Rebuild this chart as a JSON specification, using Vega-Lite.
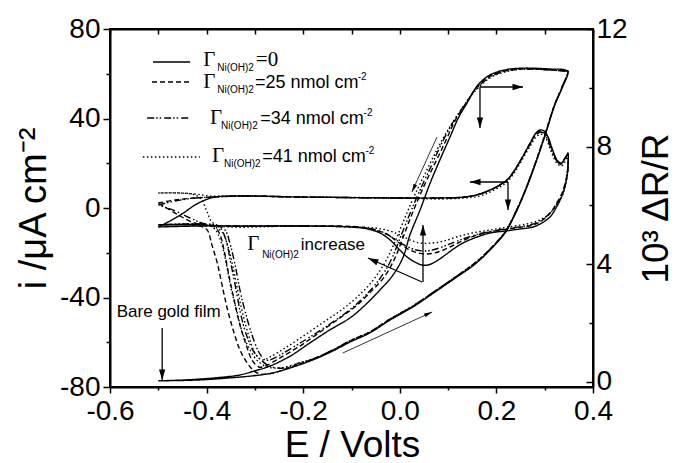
{
  "$schema": "https://vega.github.io/schema/vega-lite/v6.json",
  "width": 483,
  "height": 358,
  "autosize": {"type": "none"},
  "padding": {"left": 110, "top": 29, "right": 82, "bottom": 76},
  "background": "white",
  "config": {
    "view": {"stroke": "black", "strokeWidth": 2},
    "font": "Liberation Sans",
    "axis": {
      "domainColor": "black", "domainWidth": 2, "tickColor": "black", "tickWidth": 1.5,
      "labelFont": "Liberation Sans", "labelFontSize": 28, "labelColor": "black",
      "labelOverlap": false, "labelFlush": false, "labelBound": false,
      "titleFont": "Liberation Sans", "titleFontSize": 38, "titleFontWeight": "normal", "titleColor": "black",
      "grid": false
    }
  },
  "datasets": {
    "cv": [
      {"s":"0","o":1,"E":-0.5,"i":-8.49},{"s":"0","o":2,"E":-0.476,"i":-5.81},{"s":"0","o":3,"E":-0.451,"i":-2.68},{"s":"0","o":4,"E":-0.424,"i":1.34},{"s":"0","o":5,"E":-0.403,"i":3.58},{"s":"0","o":6,"E":-0.383,"i":4.92},{"s":"0","o":7,"E":-0.331,"i":5.36},{"s":"0","o":8,"E":-0.207,"i":4.92},{"s":"0","o":9,"E":0.0,"i":4.47},{"s":"0","o":10,"E":0.083,"i":4.47},{"s":"0","o":11,"E":0.135,"i":4.92},{"s":"0","o":12,"E":0.166,"i":6.26},{"s":"0","o":13,"E":0.187,"i":8.04},{"s":"0","o":14,"E":0.207,"i":10.28},{"s":"0","o":15,"E":0.224,"i":12.96},{"s":"0","o":16,"E":0.238,"i":16.98},{"s":"0","o":17,"E":0.253,"i":22.35},{"s":"0","o":18,"E":0.27,"i":29.05},{"s":"0","o":19,"E":0.282,"i":33.52},{"s":"0","o":20,"E":0.29,"i":34.86},{"s":"0","o":21,"E":0.299,"i":34.41},{"s":"0","o":22,"E":0.307,"i":31.73},{"s":"0","o":23,"E":0.315,"i":26.82},{"s":"0","o":24,"E":0.323,"i":22.35},{"s":"0","o":25,"E":0.332,"i":19.67},{"s":"0","o":26,"E":0.34,"i":21.45},{"s":"0","o":27,"E":0.348,"i":24.13},{"s":"0","o":28,"E":0.348,"i":18.77},{"s":"0","o":29,"E":0.346,"i":13.85},{"s":"0","o":30,"E":0.34,"i":8.04},{"s":"0","o":31,"E":0.332,"i":3.58},{"s":"0","o":32,"E":0.321,"i":-0.89},{"s":"0","o":33,"E":0.311,"i":-4.02},{"s":"0","o":34,"E":0.294,"i":-6.7},{"s":"0","o":35,"E":0.276,"i":-8.49},{"s":"0","o":36,"E":0.249,"i":-9.39},{"s":"0","o":37,"E":0.218,"i":-10.28},{"s":"0","o":38,"E":0.187,"i":-11.17},{"s":"0","o":39,"E":0.16,"i":-12.96},{"s":"0","o":40,"E":0.135,"i":-15.2},{"s":"0","o":41,"E":0.114,"i":-17.88},{"s":"0","o":42,"E":0.094,"i":-21.01},{"s":"0","o":43,"E":0.073,"i":-24.13},{"s":"0","o":44,"E":0.058,"i":-25.48},{"s":"0","o":45,"E":0.046,"i":-25.48},{"s":"0","o":46,"E":0.031,"i":-24.13},{"s":"0","o":47,"E":0.015,"i":-21.9},{"s":"0","o":48,"E":-0.004,"i":-17.88},{"s":"0","o":49,"E":-0.02,"i":-14.3},{"s":"0","o":50,"E":-0.041,"i":-11.17},{"s":"0","o":51,"E":-0.066,"i":-9.39},{"s":"0","o":52,"E":-0.103,"i":-8.49},{"s":"0","o":53,"E":-0.207,"i":-8.04},{"s":"0","o":54,"E":-0.31,"i":-8.04},{"s":"0","o":55,"E":-0.414,"i":-8.04},{"s":"0","o":56,"E":-0.5,"i":-8.49},
      {"s":"25","o":1,"E":-0.5,"i":2.23},{"s":"25","o":2,"E":-0.465,"i":3.58},{"s":"25","o":3,"E":-0.424,"i":4.47},{"s":"25","o":4,"E":-0.383,"i":4.92},{"s":"25","o":5,"E":-0.331,"i":5.36},{"s":"25","o":6,"E":-0.207,"i":4.92},{"s":"25","o":7,"E":0.0,"i":4.47},{"s":"25","o":8,"E":0.083,"i":4.47},{"s":"25","o":9,"E":0.135,"i":4.92},{"s":"25","o":10,"E":0.166,"i":6.26},{"s":"25","o":11,"E":0.187,"i":8.04},{"s":"25","o":12,"E":0.207,"i":10.28},{"s":"25","o":13,"E":0.224,"i":12.96},{"s":"25","o":14,"E":0.238,"i":16.98},{"s":"25","o":15,"E":0.253,"i":22.35},{"s":"25","o":16,"E":0.27,"i":29.05},{"s":"25","o":17,"E":0.282,"i":33.07},{"s":"25","o":18,"E":0.292,"i":34.41},{"s":"25","o":19,"E":0.301,"i":33.07},{"s":"25","o":20,"E":0.309,"i":29.94},{"s":"25","o":21,"E":0.317,"i":25.03},{"s":"25","o":22,"E":0.325,"i":21.45},{"s":"25","o":23,"E":0.334,"i":20.11},{"s":"25","o":24,"E":0.342,"i":22.35},{"s":"25","o":25,"E":0.348,"i":24.58},{"s":"25","o":26,"E":0.348,"i":17.88},{"s":"25","o":27,"E":0.344,"i":12.51},{"s":"25","o":28,"E":0.336,"i":6.7},{"s":"25","o":29,"E":0.325,"i":2.23},{"s":"25","o":30,"E":0.313,"i":-1.79},{"s":"25","o":31,"E":0.296,"i":-5.36},{"s":"25","o":32,"E":0.276,"i":-7.6},{"s":"25","o":33,"E":0.238,"i":-8.94},{"s":"25","o":34,"E":0.197,"i":-10.28},{"s":"25","o":35,"E":0.16,"i":-12.07},{"s":"25","o":36,"E":0.129,"i":-14.75},{"s":"25","o":37,"E":0.104,"i":-17.43},{"s":"25","o":38,"E":0.079,"i":-19.67},{"s":"25","o":39,"E":0.058,"i":-20.56},{"s":"25","o":40,"E":0.038,"i":-20.11},{"s":"25","o":41,"E":0.017,"i":-18.33},{"s":"25","o":42,"E":-0.004,"i":-15.2},{"s":"25","o":43,"E":-0.024,"i":-12.07},{"s":"25","o":44,"E":-0.051,"i":-9.83},{"s":"25","o":45,"E":-0.082,"i":-8.49},{"s":"25","o":46,"E":-0.207,"i":-8.04},{"s":"25","o":47,"E":-0.352,"i":-8.04},{"s":"25","o":48,"E":-0.403,"i":-7.6},{"s":"25","o":49,"E":-0.43,"i":-6.26},{"s":"25","o":50,"E":-0.455,"i":-3.58},{"s":"25","o":51,"E":-0.476,"i":-0.89},{"s":"25","o":52,"E":-0.5,"i":2.23},
      {"s":"34","o":1,"E":-0.5,"i":1.34},{"s":"34","o":2,"E":-0.465,"i":3.13},{"s":"34","o":3,"E":-0.424,"i":4.47},{"s":"34","o":4,"E":-0.383,"i":4.92},{"s":"34","o":5,"E":-0.331,"i":5.36},{"s":"34","o":6,"E":-0.207,"i":4.92},{"s":"34","o":7,"E":0.0,"i":4.47},{"s":"34","o":8,"E":0.083,"i":4.47},{"s":"34","o":9,"E":0.135,"i":4.92},{"s":"34","o":10,"E":0.166,"i":6.26},{"s":"34","o":11,"E":0.187,"i":8.04},{"s":"34","o":12,"E":0.207,"i":10.28},{"s":"34","o":13,"E":0.224,"i":12.96},{"s":"34","o":14,"E":0.238,"i":16.98},{"s":"34","o":15,"E":0.253,"i":22.35},{"s":"34","o":16,"E":0.27,"i":28.6},{"s":"34","o":17,"E":0.282,"i":32.6},{"s":"34","o":18,"E":0.292,"i":33.97},{"s":"34","o":19,"E":0.301,"i":32.63},{"s":"34","o":20,"E":0.309,"i":29.05},{"s":"34","o":21,"E":0.317,"i":24.58},{"s":"34","o":22,"E":0.325,"i":21.01},{"s":"34","o":23,"E":0.334,"i":19.67},{"s":"34","o":24,"E":0.342,"i":21.9},{"s":"34","o":25,"E":0.348,"i":24.13},{"s":"34","o":26,"E":0.348,"i":17.88},{"s":"34","o":27,"E":0.344,"i":12.07},{"s":"34","o":28,"E":0.336,"i":6.26},{"s":"34","o":29,"E":0.325,"i":1.79},{"s":"34","o":30,"E":0.311,"i":-2.23},{"s":"34","o":31,"E":0.294,"i":-5.36},{"s":"34","o":32,"E":0.27,"i":-7.6},{"s":"34","o":33,"E":0.232,"i":-8.94},{"s":"34","o":34,"E":0.193,"i":-10.28},{"s":"34","o":35,"E":0.156,"i":-12.07},{"s":"34","o":36,"E":0.125,"i":-14.3},{"s":"34","o":37,"E":0.098,"i":-16.54},{"s":"34","o":38,"E":0.075,"i":-18.33},{"s":"34","o":39,"E":0.054,"i":-19.22},{"s":"34","o":40,"E":0.034,"i":-18.77},{"s":"34","o":41,"E":0.013,"i":-16.98},{"s":"34","o":42,"E":-0.008,"i":-14.3},{"s":"34","o":43,"E":-0.031,"i":-11.17},{"s":"34","o":44,"E":-0.057,"i":-9.39},{"s":"34","o":45,"E":-0.093,"i":-8.49},{"s":"34","o":46,"E":-0.207,"i":-8.04},{"s":"34","o":47,"E":-0.362,"i":-8.04},{"s":"34","o":48,"E":-0.403,"i":-7.15},{"s":"34","o":49,"E":-0.434,"i":-4.47},{"s":"34","o":50,"E":-0.465,"i":-1.34},{"s":"34","o":51,"E":-0.5,"i":1.34},
      {"s":"41","o":1,"E":-0.5,"i":6.7},{"s":"41","o":2,"E":-0.455,"i":6.7},{"s":"41","o":3,"E":-0.424,"i":6.26},{"s":"41","o":4,"E":-0.393,"i":5.36},{"s":"41","o":5,"E":-0.331,"i":5.36},{"s":"41","o":6,"E":-0.207,"i":4.92},{"s":"41","o":7,"E":0.0,"i":4.47},{"s":"41","o":8,"E":0.083,"i":4.02},{"s":"41","o":9,"E":0.135,"i":4.47},{"s":"41","o":10,"E":0.166,"i":5.36},{"s":"41","o":11,"E":0.187,"i":7.15},{"s":"41","o":12,"E":0.207,"i":9.38},{"s":"41","o":13,"E":0.224,"i":12.07},{"s":"41","o":14,"E":0.238,"i":16.09},{"s":"41","o":15,"E":0.253,"i":21.45},{"s":"41","o":16,"E":0.27,"i":27.71},{"s":"41","o":17,"E":0.282,"i":31.73},{"s":"41","o":18,"E":0.292,"i":33.07},{"s":"41","o":19,"E":0.301,"i":31.73},{"s":"41","o":20,"E":0.309,"i":27.71},{"s":"41","o":21,"E":0.317,"i":23.24},{"s":"41","o":22,"E":0.325,"i":20.11},{"s":"41","o":23,"E":0.334,"i":18.77},{"s":"41","o":24,"E":0.342,"i":20.56},{"s":"41","o":25,"E":0.348,"i":22.79},{"s":"41","o":26,"E":0.348,"i":16.98},{"s":"41","o":27,"E":0.344,"i":11.17},{"s":"41","o":28,"E":0.336,"i":5.36},{"s":"41","o":29,"E":0.323,"i":0.89},{"s":"41","o":30,"E":0.309,"i":-2.68},{"s":"41","o":31,"E":0.29,"i":-5.36},{"s":"41","o":32,"E":0.263,"i":-7.15},{"s":"41","o":33,"E":0.224,"i":-8.49},{"s":"41","o":34,"E":0.187,"i":-9.83},{"s":"41","o":35,"E":0.15,"i":-11.17},{"s":"41","o":36,"E":0.118,"i":-12.96},{"s":"41","o":37,"E":0.091,"i":-14.75},{"s":"41","o":38,"E":0.067,"i":-15.64},{"s":"41","o":39,"E":0.042,"i":-15.64},{"s":"41","o":40,"E":0.021,"i":-14.3},{"s":"41","o":41,"E":0.0,"i":-12.07},{"s":"41","o":42,"E":-0.02,"i":-10.28},{"s":"41","o":43,"E":-0.051,"i":-8.94},{"s":"41","o":44,"E":-0.093,"i":-8.49},{"s":"41","o":45,"E":-0.207,"i":-8.04},{"s":"41","o":46,"E":-0.372,"i":-8.04},{"s":"41","o":47,"E":-0.389,"i":-6.26},{"s":"41","o":48,"E":-0.399,"i":-1.79},{"s":"41","o":49,"E":-0.41,"i":3.58},{"s":"41","o":50,"E":-0.424,"i":5.81},{"s":"41","o":51,"E":-0.455,"i":6.7},{"s":"41","o":52,"E":-0.5,"i":6.7}
    ],
    "rf": [
      {"s":"0","o":1,"E":-0.5,"R":0.04},{"s":"0","o":2,"E":-0.414,"R":0.07},{"s":"0","o":3,"E":-0.352,"R":0.14},{"s":"0","o":4,"E":-0.304,"R":0.21},{"s":"0","o":5,"E":-0.263,"R":0.31},{"s":"0","o":6,"E":-0.221,"R":0.51},{"s":"0","o":7,"E":-0.18,"R":0.75},{"s":"0","o":8,"E":-0.138,"R":1.06},{"s":"0","o":9,"E":-0.103,"R":1.36},{"s":"0","o":10,"E":-0.062,"R":1.67},{"s":"0","o":11,"E":-0.02,"R":2.11},{"s":"0","o":12,"E":0.027,"R":2.55},{"s":"0","o":13,"E":0.073,"R":3.06},{"s":"0","o":14,"E":0.118,"R":3.57},{"s":"0","o":15,"E":0.156,"R":4.01},{"s":"0","o":16,"E":0.187,"R":4.49},{"s":"0","o":17,"E":0.218,"R":5.07},{"s":"0","o":18,"E":0.238,"R":5.68},{"s":"0","o":19,"E":0.259,"R":6.46},{"s":"0","o":20,"E":0.28,"R":7.38},{"s":"0","o":21,"E":0.301,"R":8.4},{"s":"0","o":22,"E":0.321,"R":9.42},{"s":"0","o":23,"E":0.336,"R":9.99},{"s":"0","o":24,"E":0.348,"R":10.54},{"s":"0","o":25,"E":0.342,"R":10.61},{"s":"0","o":26,"E":0.311,"R":10.64},{"s":"0","o":27,"E":0.255,"R":10.67},{"s":"0","o":28,"E":0.218,"R":10.61},{"s":"0","o":29,"E":0.187,"R":10.44},{"s":"0","o":30,"E":0.162,"R":10.1},{"s":"0","o":31,"E":0.139,"R":9.48},{"s":"0","o":32,"E":0.121,"R":8.97},{"s":"0","o":33,"E":0.104,"R":8.33},{"s":"0","o":34,"E":0.083,"R":7.55},{"s":"0","o":35,"E":0.063,"R":6.77},{"s":"0","o":36,"E":0.042,"R":5.85},{"s":"0","o":37,"E":0.021,"R":5.0},{"s":"0","o":38,"E":0.007,"R":4.25},{"s":"0","o":39,"E":-0.014,"R":3.64},{"s":"0","o":40,"E":-0.041,"R":3.13},{"s":"0","o":41,"E":-0.076,"R":2.55},{"s":"0","o":42,"E":-0.103,"R":2.18},{"s":"0","o":43,"E":-0.145,"R":1.77},{"s":"0","o":44,"E":-0.186,"R":1.33},{"s":"0","o":45,"E":-0.227,"R":0.88},{"s":"0","o":46,"E":-0.269,"R":0.54},{"s":"0","o":47,"E":-0.3,"R":0.38},{"s":"0","o":48,"E":-0.331,"R":0.24},{"s":"0","o":49,"E":-0.383,"R":0.14},{"s":"0","o":50,"E":-0.445,"R":0.07},{"s":"0","o":51,"E":-0.5,"R":0.04},
      {"s":"25","o":1,"E":-0.5,"R":5.34},{"s":"25","o":2,"E":-0.445,"R":5.34},{"s":"25","o":3,"E":-0.414,"R":5.3},{"s":"25","o":4,"E":-0.399,"R":5.17},{"s":"25","o":5,"E":-0.389,"R":4.66},{"s":"25","o":6,"E":-0.378,"R":4.05},{"s":"25","o":7,"E":-0.368,"R":3.3},{"s":"25","o":8,"E":-0.358,"R":2.55},{"s":"25","o":9,"E":-0.345,"R":1.77},{"s":"25","o":10,"E":-0.331,"R":1.09},{"s":"25","o":11,"E":-0.316,"R":0.65},{"s":"25","o":12,"E":-0.304,"R":0.41},{"s":"25","o":13,"E":-0.289,"R":0.27},{"s":"25","o":14,"E":-0.263,"R":0.3},{"s":"25","o":15,"E":-0.221,"R":0.54},{"s":"25","o":16,"E":-0.18,"R":0.78},{"s":"25","o":17,"E":-0.138,"R":1.09},{"s":"25","o":18,"E":-0.103,"R":1.4},{"s":"25","o":19,"E":-0.062,"R":1.7},{"s":"25","o":20,"E":-0.02,"R":2.14},{"s":"25","o":21,"E":0.027,"R":2.58},{"s":"25","o":22,"E":0.073,"R":3.09},{"s":"25","o":23,"E":0.118,"R":3.6},{"s":"25","o":24,"E":0.156,"R":4.05},{"s":"25","o":25,"E":0.187,"R":4.52},{"s":"25","o":26,"E":0.218,"R":5.1},{"s":"25","o":27,"E":0.238,"R":5.71},{"s":"25","o":28,"E":0.259,"R":6.49},{"s":"25","o":29,"E":0.28,"R":7.41},{"s":"25","o":30,"E":0.301,"R":8.43},{"s":"25","o":31,"E":0.321,"R":9.45},{"s":"25","o":32,"E":0.336,"R":10.03},{"s":"25","o":33,"E":0.348,"R":10.57},{"s":"25","o":34,"E":0.342,"R":10.57},{"s":"25","o":35,"E":0.311,"R":10.61},{"s":"25","o":36,"E":0.255,"R":10.64},{"s":"25","o":37,"E":0.218,"R":10.57},{"s":"25","o":38,"E":0.187,"R":10.4},{"s":"25","o":39,"E":0.16,"R":10.03},{"s":"25","o":40,"E":0.135,"R":9.42},{"s":"25","o":41,"E":0.114,"R":8.87},{"s":"25","o":42,"E":0.096,"R":8.23},{"s":"25","o":43,"E":0.073,"R":7.44},{"s":"25","o":44,"E":0.05,"R":6.66},{"s":"25","o":45,"E":0.027,"R":5.78},{"s":"25","o":46,"E":0.007,"R":4.93},{"s":"25","o":47,"E":-0.01,"R":4.22},{"s":"25","o":48,"E":-0.031,"R":3.6},{"s":"25","o":49,"E":-0.062,"R":3.03},{"s":"25","o":50,"E":-0.093,"R":2.55},{"s":"25","o":51,"E":-0.124,"R":2.18},{"s":"25","o":52,"E":-0.165,"R":1.7},{"s":"25","o":53,"E":-0.207,"R":1.22},{"s":"25","o":54,"E":-0.248,"R":0.82},{"s":"25","o":55,"E":-0.279,"R":0.54},{"s":"25","o":56,"E":-0.292,"R":0.51},{"s":"25","o":57,"E":-0.306,"R":0.75},{"s":"25","o":58,"E":-0.318,"R":1.26},{"s":"25","o":59,"E":-0.331,"R":1.94},{"s":"25","o":60,"E":-0.343,"R":2.79},{"s":"25","o":61,"E":-0.354,"R":3.64},{"s":"25","o":62,"E":-0.364,"R":4.49},{"s":"25","o":63,"E":-0.372,"R":5.0},{"s":"25","o":64,"E":-0.383,"R":5.27},{"s":"25","o":65,"E":-0.403,"R":5.34},{"s":"25","o":66,"E":-0.455,"R":5.34},{"s":"25","o":67,"E":-0.5,"R":5.34},
      {"s":"34","o":1,"E":-0.5,"R":5.34},{"s":"34","o":2,"E":-0.393,"R":5.34},{"s":"34","o":3,"E":-0.372,"R":5.24},{"s":"34","o":4,"E":-0.36,"R":4.83},{"s":"34","o":5,"E":-0.35,"R":4.05},{"s":"34","o":6,"E":-0.339,"R":3.13},{"s":"34","o":7,"E":-0.329,"R":2.28},{"s":"34","o":8,"E":-0.316,"R":1.53},{"s":"34","o":9,"E":-0.302,"R":1.02},{"s":"34","o":10,"E":-0.285,"R":0.71},{"s":"34","o":11,"E":-0.265,"R":0.51},{"s":"34","o":12,"E":-0.238,"R":0.48},{"s":"34","o":13,"E":-0.207,"R":0.65},{"s":"34","o":14,"E":-0.18,"R":0.78},{"s":"34","o":15,"E":-0.138,"R":1.09},{"s":"34","o":16,"E":-0.103,"R":1.4},{"s":"34","o":17,"E":-0.062,"R":1.7},{"s":"34","o":18,"E":-0.02,"R":2.14},{"s":"34","o":19,"E":0.027,"R":2.58},{"s":"34","o":20,"E":0.073,"R":3.09},{"s":"34","o":21,"E":0.118,"R":3.6},{"s":"34","o":22,"E":0.156,"R":4.05},{"s":"34","o":23,"E":0.187,"R":4.52},{"s":"34","o":24,"E":0.218,"R":5.1},{"s":"34","o":25,"E":0.238,"R":5.71},{"s":"34","o":26,"E":0.259,"R":6.49},{"s":"34","o":27,"E":0.28,"R":7.41},{"s":"34","o":28,"E":0.301,"R":8.43},{"s":"34","o":29,"E":0.321,"R":9.45},{"s":"34","o":30,"E":0.336,"R":10.03},{"s":"34","o":31,"E":0.348,"R":10.57},{"s":"34","o":32,"E":0.342,"R":10.57},{"s":"34","o":33,"E":0.311,"R":10.61},{"s":"34","o":34,"E":0.255,"R":10.64},{"s":"34","o":35,"E":0.218,"R":10.57},{"s":"34","o":36,"E":0.187,"R":10.37},{"s":"34","o":37,"E":0.158,"R":9.96},{"s":"34","o":38,"E":0.131,"R":9.35},{"s":"34","o":39,"E":0.108,"R":8.77},{"s":"34","o":40,"E":0.087,"R":8.12},{"s":"34","o":41,"E":0.065,"R":7.34},{"s":"34","o":42,"E":0.042,"R":6.53},{"s":"34","o":43,"E":0.019,"R":5.64},{"s":"34","o":44,"E":-0.002,"R":4.79},{"s":"34","o":45,"E":-0.02,"R":4.08},{"s":"34","o":46,"E":-0.045,"R":3.43},{"s":"34","o":47,"E":-0.076,"R":2.86},{"s":"34","o":48,"E":-0.107,"R":2.41},{"s":"34","o":49,"E":-0.145,"R":1.97},{"s":"34","o":50,"E":-0.186,"R":1.53},{"s":"34","o":51,"E":-0.227,"R":1.12},{"s":"34","o":52,"E":-0.252,"R":0.88},{"s":"34","o":53,"E":-0.269,"R":0.75},{"s":"34","o":54,"E":-0.279,"R":0.75},{"s":"34","o":55,"E":-0.292,"R":1.02},{"s":"34","o":56,"E":-0.306,"R":1.6},{"s":"34","o":57,"E":-0.32,"R":2.38},{"s":"34","o":58,"E":-0.331,"R":3.13},{"s":"34","o":59,"E":-0.341,"R":3.98},{"s":"34","o":60,"E":-0.352,"R":4.73},{"s":"34","o":61,"E":-0.362,"R":5.17},{"s":"34","o":62,"E":-0.383,"R":5.34},{"s":"34","o":63,"E":-0.5,"R":5.34},
      {"s":"41","o":1,"E":-0.5,"R":5.34},{"s":"41","o":2,"E":-0.403,"R":5.34},{"s":"41","o":3,"E":-0.383,"R":5.2},{"s":"41","o":4,"E":-0.37,"R":4.76},{"s":"41","o":5,"E":-0.36,"R":4.08},{"s":"41","o":6,"E":-0.35,"R":3.23},{"s":"41","o":7,"E":-0.337,"R":2.38},{"s":"41","o":8,"E":-0.325,"R":1.63},{"s":"41","o":9,"E":-0.31,"R":1.09},{"s":"41","o":10,"E":-0.294,"R":0.71},{"s":"41","o":11,"E":-0.273,"R":0.51},{"s":"41","o":12,"E":-0.248,"R":0.48},{"s":"41","o":13,"E":-0.207,"R":0.65},{"s":"41","o":14,"E":-0.18,"R":0.78},{"s":"41","o":15,"E":-0.138,"R":1.09},{"s":"41","o":16,"E":-0.103,"R":1.4},{"s":"41","o":17,"E":-0.062,"R":1.7},{"s":"41","o":18,"E":-0.02,"R":2.14},{"s":"41","o":19,"E":0.027,"R":2.58},{"s":"41","o":20,"E":0.073,"R":3.09},{"s":"41","o":21,"E":0.118,"R":3.6},{"s":"41","o":22,"E":0.156,"R":4.05},{"s":"41","o":23,"E":0.187,"R":4.52},{"s":"41","o":24,"E":0.218,"R":5.1},{"s":"41","o":25,"E":0.238,"R":5.71},{"s":"41","o":26,"E":0.259,"R":6.49},{"s":"41","o":27,"E":0.28,"R":7.41},{"s":"41","o":28,"E":0.301,"R":8.43},{"s":"41","o":29,"E":0.321,"R":9.45},{"s":"41","o":30,"E":0.336,"R":10.03},{"s":"41","o":31,"E":0.348,"R":10.57},{"s":"41","o":32,"E":0.342,"R":10.57},{"s":"41","o":33,"E":0.311,"R":10.61},{"s":"41","o":34,"E":0.255,"R":10.64},{"s":"41","o":35,"E":0.218,"R":10.54},{"s":"41","o":36,"E":0.187,"R":10.34},{"s":"41","o":37,"E":0.156,"R":9.89},{"s":"41","o":38,"E":0.127,"R":9.25},{"s":"41","o":39,"E":0.102,"R":8.63},{"s":"41","o":40,"E":0.079,"R":7.96},{"s":"41","o":41,"E":0.054,"R":7.14},{"s":"41","o":42,"E":0.029,"R":6.29},{"s":"41","o":43,"E":0.007,"R":5.44},{"s":"41","o":44,"E":-0.014,"R":4.62},{"s":"41","o":45,"E":-0.035,"R":3.94},{"s":"41","o":46,"E":-0.062,"R":3.33},{"s":"41","o":47,"E":-0.093,"R":2.82},{"s":"41","o":48,"E":-0.124,"R":2.41},{"s":"41","o":49,"E":-0.161,"R":2.0},{"s":"41","o":50,"E":-0.2,"R":1.56},{"s":"41","o":51,"E":-0.238,"R":1.15},{"s":"41","o":52,"E":-0.269,"R":0.85},{"s":"41","o":53,"E":-0.285,"R":0.75},{"s":"41","o":54,"E":-0.3,"R":0.99},{"s":"41","o":55,"E":-0.312,"R":1.53},{"s":"41","o":56,"E":-0.325,"R":2.31},{"s":"41","o":57,"E":-0.335,"R":3.06},{"s":"41","o":58,"E":-0.345,"R":3.88},{"s":"41","o":59,"E":-0.356,"R":4.62},{"s":"41","o":60,"E":-0.368,"R":5.1},{"s":"41","o":61,"E":-0.389,"R":5.3},{"s":"41","o":62,"E":-0.5,"R":5.34}
    ],
    "lg": [
      {"s":"0","o":1,"E":-0.511,"i":65.25},{"s":"0","o":2,"E":-0.434,"i":65.25},
      {"s":"25","o":1,"E":-0.513,"i":56.31},{"s":"25","o":2,"E":-0.434,"i":56.31},
      {"s":"34","o":1,"E":-0.523,"i":40.22},{"s":"34","o":2,"E":-0.434,"i":40.22},
      {"s":"41","o":1,"E":-0.532,"i":22.79},{"s":"41","o":2,"E":-0.414,"i":22.79}
    ],
    "gam": [
      {"t":"Γ","E":-0.407,"i":63.46},{"t":"Γ","E":-0.407,"i":53.63},{"t":"Γ","E":-0.393,"i":37.54},{"t":"Γ","E":-0.389,"i":20.56},{"t":"Γ","E":-0.316,"i":-18.77},
      {"t":"=0","E":-0.298,"i":63.46}
    ],
    "sub": [
      {"t":"Ni(OH)2","E":-0.378,"i":61.23},{"t":"Ni(OH)2","E":-0.378,"i":51.4},{"t":"Ni(OH)2","E":-0.37,"i":35.31},{"t":"Ni(OH)2","E":-0.364,"i":18.32},{"t":"Ni(OH)2","E":-0.285,"i":-22.35},
      {"t":"-2","E":-0.087,"i":57.21},{"t":"-2","E":-0.075,"i":41.12},{"t":"-2","E":-0.071,"i":24.13}
    ],
    "lab18": [
      {"t":"=25 nmol cm","E":-0.3,"i":53.63},{"t":"=34 nmol cm","E":-0.289,"i":37.54},{"t":"=41 nmol cm","E":-0.285,"i":20.56}
    ],
    "lab17": [
      {"t":"increase","E":-0.205,"i":-18.77},{"t":"Bare gold film","E":-0.586,"i":-48.7}
    ],
    "shaft": [
      {"E":0.166,"i":54.08,"E2":0.255,"i2":54.08},{"E":0.166,"i":54.08,"E2":0.166,"i2":35.75},
      {"E":0.224,"i":11.62,"E2":0.145,"i2":11.62},{"E":0.224,"i":11.62,"E2":0.224,"i2":-0.89},
      {"E":0.048,"i":-33.07,"E2":0.048,"i2":-7.6},{"E":0.046,"i":-33.07,"E2":-0.066,"i2":-22.35},
      {"E":-0.492,"i":-53.6,"E2":-0.492,"i2":-76.87}
    ],
    "thin": [
      {"E":0.077,"i":31.73,"E2":0.025,"i2":7.15},{"E":-0.118,"i":-64.81,"E2":0.067,"i2":-46.48}
    ],
    "hdown": [{"E":0.166,"i":38.88},{"E":0.224,"i":2.23},{"E":-0.492,"i":-73.74}],
    "hright": [{"E":0.2406,"i":54.08}],
    "hleft": [{"E":0.16,"i":11.62}],
    "hup": [{"E":0.048,"i":-10.73}],
    "hinc": [{"E":-0.0526,"i":-23.62}],
    "hdl": [{"E":0.0296,"i":9.21}],
    "hur": [{"E":0.0573,"i":-47.42}]
  },
  "layer": [
    {
      "encoding": {
        "x": {"field": "E", "type": "quantitative", "scale": {"domain": [-0.6, 0.4], "nice": false, "zero": false},
          "axis": {"orient": "bottom", "values": [-0.6,-0.5,-0.4,-0.3,-0.2,-0.1,0,0.1,0.2,0.3,0.4],
            "labelExpr": "round(datum.value*10)%2===0 ? (datum.value < -0.001 ? '-' : '') + format(abs(datum.value), '.1f') : ''",
            "tickSize": {"condition": {"test": "round(datum.value*10)%2===0", "value": 6}, "value": 3},
            "labelPadding": 4,
            "title": "E / Volts", "titleX": 242, "titleY": 69, "titleBaseline": "alphabetic", "titleAlign": "center", "titleFontSize": 37}},
        "y": {"field": "i", "type": "quantitative", "scale": {"domain": [-80, 80], "nice": false, "zero": false},
          "axis": {"values": [-80,-60,-40,-20,0,20,40,60,80],
            "labelExpr": "round(datum.value)%40===0 ? (datum.value < 0 ? '-' : '') + abs(datum.value) : ''",
            "tickSize": {"condition": {"test": "round(datum.value)%40===0", "value": 7}, "value": 4},
            "labelPadding": 3,
            "title": "i /μA cm⁻²", "titleX": -65, "titleY": 179, "titleAngle": -90, "titleBaseline": "alphabetic", "titleAlign": "center"}}
      },
      "layer": [
        {
          "data": {"name": "cv"},
          "mark": {"type": "line", "strokeWidth": 1.4, "color": "black", "interpolate": "catmull-rom"},
          "encoding": {
            "strokeDash": {"field": "s", "type": "nominal", "scale": {"domain": ["0","25","34","41"], "range": [[1,0],[5,3],[7,2,1.5,2,1.5,3],[1.5,2.5]]}, "legend": null},
            "order": {"field": "o"}
          }
        },
        {
          "data": {"name": "lg"},
          "mark": {"type": "line", "strokeWidth": 1.4, "color": "black"},
          "encoding": {
            "strokeDash": {"field": "s", "type": "nominal", "legend": null},
            "order": {"field": "o"}
          }
        },
        {
          "data": {"name": "gam"},
          "mark": {"type": "text", "font": "Liberation Serif", "fontSize": 21, "align": "left", "baseline": "alphabetic", "color": "black"},
          "encoding": {"text": {"field": "t"}}
        },
        {
          "data": {"name": "sub"},
          "mark": {"type": "text", "font": "Liberation Sans", "fontSize": 10, "align": "left", "baseline": "alphabetic", "color": "black"},
          "encoding": {"text": {"field": "t"}}
        },
        {
          "data": {"name": "lab18"},
          "mark": {"type": "text", "font": "Liberation Sans", "fontSize": 18, "align": "left", "baseline": "alphabetic", "color": "black"},
          "encoding": {"text": {"field": "t"}}
        },
        {
          "data": {"name": "lab17"},
          "mark": {"type": "text", "font": "Liberation Sans", "fontSize": 17, "align": "left", "baseline": "alphabetic", "color": "black"},
          "encoding": {"text": {"field": "t"}}
        },
        {
          "data": {"name": "shaft"},
          "mark": {"type": "rule", "strokeWidth": 1.3, "color": "black"},
          "encoding": {"x2": {"field": "E2"}, "y2": {"field": "i2"}}
        },
        {
          "data": {"name": "thin"},
          "mark": {"type": "rule", "strokeWidth": 0.8, "color": "black"},
          "encoding": {"x2": {"field": "E2"}, "y2": {"field": "i2"}}
        },
        {
          "data": {"name": "hdown"},
          "mark": {"type": "point", "shape": "M0,-1L0.45,0.5L-0.45,0.5Z", "size": 196, "filled": true, "color": "black", "opacity": 1, "angle": 180}
        },
        {
          "data": {"name": "hright"},
          "mark": {"type": "point", "shape": "M0,-1L0.45,0.5L-0.45,0.5Z", "size": 196, "filled": true, "color": "black", "opacity": 1, "angle": 90}
        },
        {
          "data": {"name": "hleft"},
          "mark": {"type": "point", "shape": "M0,-1L0.45,0.5L-0.45,0.5Z", "size": 196, "filled": true, "color": "black", "opacity": 1, "angle": 270}
        },
        {
          "data": {"name": "hup"},
          "mark": {"type": "point", "shape": "M0,-1L0.45,0.5L-0.45,0.5Z", "size": 196, "filled": true, "color": "black", "opacity": 1, "angle": 0}
        },
        {
          "data": {"name": "hinc"},
          "mark": {"type": "point", "shape": "M0,-1L0.45,0.5L-0.45,0.5Z", "size": 196, "filled": true, "color": "black", "opacity": 1, "angle": 294}
        },
        {
          "data": {"name": "hdl"},
          "mark": {"type": "point", "shape": "M0,-1L0.4,0.6L-0.4,0.6Z", "size": 100, "filled": true, "color": "black", "opacity": 1, "angle": 204}
        },
        {
          "data": {"name": "hur"},
          "mark": {"type": "point", "shape": "M0,-1L0.4,0.6L-0.4,0.6Z", "size": 100, "filled": true, "color": "black", "opacity": 1, "angle": 65}
        }
      ]
    },
    {
      "data": {"name": "rf"},
      "mark": {"type": "line", "strokeWidth": 1.4, "color": "black", "interpolate": "catmull-rom"},
      "encoding": {
        "x": {"field": "E", "type": "quantitative", "scale": {"domain": [-0.6, 0.4], "nice": false, "zero": false},
          "axis": {"orient": "top", "values": [-0.6,-0.5,-0.4,-0.3,-0.2,-0.1,0,0.1,0.2,0.3,0.4], "labels": false, "tickSize": -5, "title": null}},
        "y": {"field": "R", "type": "quantitative", "scale": {"domain": [-0.17, 12], "nice": false, "zero": false},
          "axis": {"orient": "right", "values": [0,2,4,6,8,10,12],
            "labelExpr": "round(datum.value)%4===0 ? '' + datum.value : ''",
            "tickSize": {"condition": {"test": "round(datum.value)%4===0", "value": -7}, "value": -4},
            "labelPadding": 10,
            "title": "10³ ΔR/R", "titleX": 74, "titleY": 179, "titleAngle": -90, "titleBaseline": "alphabetic", "titleAlign": "center", "titleFontSize": 37}},
        "strokeDash": {"field": "s", "type": "nominal", "legend": null},
        "order": {"field": "o"}
      }
    }
  ],
  "resolve": {"scale": {"y": "independent"}, "axis": {"x": "independent", "y": "independent"}}
}
